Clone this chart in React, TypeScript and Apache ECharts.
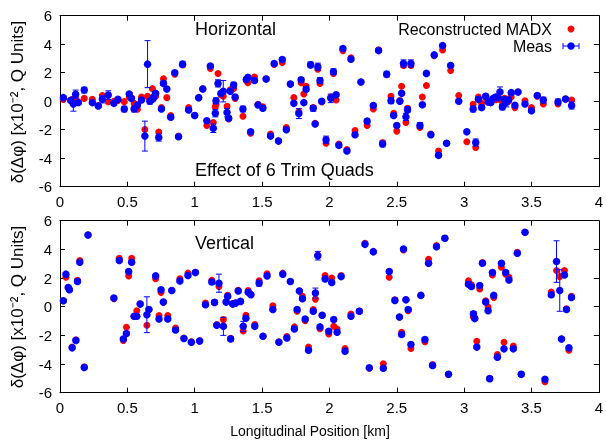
import React, { useEffect, useRef } from "react";
import * as echarts from "echarts";

// ---- Horizontal plane ----
const xH = [0.025,0.08,0.099,0.116,0.136,0.18,0.24,0.284,0.314,0.358,0.40,0.43,0.477,0.514,0.53,0.55,0.575,0.605,0.63,0.65,0.667,0.686,0.696,0.71,0.733,0.753,0.768,0.793,0.822,0.852,0.88,0.91,0.955,1.0,1.03,1.06,1.09,1.116,1.138,1.153,1.158,1.173,1.195,1.212,1.24,1.252,1.264,1.289,1.3,1.358,1.383,1.395,1.415,1.444,1.47,1.506,1.53,1.563,1.59,1.622,1.65,1.68,1.71,1.736,1.773,1.79,1.81,1.827,1.86,1.88,1.894,1.914,1.93,1.943,1.975,2.01,2.03,2.05,2.07,2.1,2.13,2.16,2.19,2.234,2.28,2.326,2.365,2.395,2.425,2.457,2.477,2.5,2.523,2.536,2.55,2.568,2.58,2.605,2.672,2.69,2.72,2.753,2.778,2.81,2.84,2.87,2.9,2.96,3.02,3.067,3.086,3.106,3.13,3.16,3.178,3.198,3.217,3.235,3.25,3.266,3.284,3.3,3.313,3.33,3.35,3.377,3.4,3.452,3.5,3.543,3.588,3.697,3.753,3.798];
const measH = [0.25,0.05,-0.2,0.48,-0.1,0.78,-0.1,-0.34,0.13,0.43,-0.15,0.13,-0.55,0.5,0.2,-0.55,-0.27,0.08,-2.45,2.6,0.0,0.13,0.3,0.55,-2.55,-0.55,1.25,0.85,-1.13,2.0,-2.5,2.6,-0.62,-1.0,0.25,0.85,-1.37,2.47,-1.9,-0.85,0.03,1.25,0.55,0.7,-0.8,-1.2,0.7,1.13,0.3,-0.55,1.53,1.67,-2.15,1.45,-0.27,-0.5,1.55,-2.45,2.65,-2.8,2.93,-2.0,1.2,-0.15,-0.87,1.5,-0.1,0.83,2.55,-0.5,-1.6,2.42,1.45,0.0,-2.7,0.2,2.07,0.45,-3.1,3.7,-3.5,2.95,-2.35,1.35,-1.4,-0.3,3.55,-3.0,1.9,0.03,-1.0,-1.7,0.0,0.55,2.65,-1.1,-0.6,2.65,-1.7,-0.25,1.95,-2.35,3.25,-3.8,3.9,-2.95,2.5,0.0,-2.15,-0.55,-2.9,0.13,-0.45,0.35,-0.05,-0.1,0.2,0.3,0.25,0.65,-0.4,0.1,-0.1,0.1,0.6,-0.28,0.65,-0.2,-0.67,0.4,0.08,-0.05,0.15,-0.3];
const modelH = [0.13,0.08,0.15,0.2,-0.05,0.2,0.13,-0.3,0.4,-0.04,0.0,0.05,-0.03,0.3,0.2,-0.15,-0.57,0.3,-1.98,0.35,0.1,0.88,0.2,0.35,-2.17,-0.45,1.58,0.25,-1.0,1.9,-2.45,2.55,-0.45,-1.0,0.25,0.88,-1.7,2.3,-1.5,-0.4,-0.2,1.95,0.45,0.35,-0.35,-1.25,0.8,0.9,0.2,-1.05,1.45,1.3,-2.25,1.7,-0.22,-0.4,1.58,-2.3,2.58,-2.78,2.72,-1.85,1.2,0.25,-0.75,1.3,0.5,1.05,2.55,-0.45,-1.55,2.25,1.25,-0.05,-2.95,0.3,1.95,0.08,-3.0,3.55,-3.4,3.05,-2.05,1.35,-1.7,-0.55,3.6,-2.9,1.85,0.35,-0.85,-2.1,0.05,1.05,2.5,-1.5,-0.5,2.5,-1.85,0.3,1.1,-2.3,3.2,-3.5,3.6,-2.95,2.15,0.4,-2.85,-0.22,-3.25,0.3,-0.15,0.25,0.05,0.0,0.1,0.1,0.3,0.13,-0.3,0.2,-0.05,0.0,0.3,-0.45,0.65,0.03,-0.45,0.35,-0.2,-0.2,0.15,0.08];
const errH = [0.1,0.1,0.5,0.3,0.1,0.2,0.1,0.1,0.25,0.3,0.1,0.1,0.2,0.1,0.1,0.2,0.1,0.1,1.05,1.65,0.2,0.1,0.1,0.1,0.25,0.1,0.15,0.1,0.1,0.1,0.1,0.2,0.1,0.05,0.05,0.05,0.1,0.1,0.3,0.25,0.2,0.25,0.1,0.75,0.3,0.15,0.1,0.2,0.1,0.2,0.1,0.1,0.1,0.1,0.1,0.1,0.1,0.1,0.1,0.1,0.1,0.1,0.1,0.1,0.35,0.15,0.1,0.15,0.2,0.2,0.1,0.25,0.2,0.1,0.25,0.3,0.2,0.1,0.15,0.1,0.1,0.1,0.1,0.1,0.15,0.1,0.1,0.2,0.2,0.2,0.1,0.1,0.1,0.1,0.25,0.25,0.2,0.25,0.2,0.1,0.1,0.1,0.1,0.1,0.1,0.1,0.1,0.1,0.1,0.2,0.25,0.1,0.15,0.15,0.1,0.1,0.1,0.1,0.1,0.35,0.2,0.1,0.3,0.1,0.1,0.1,0.1,0.1,0.1,0.1,0.2,0.2,0.1,0.25];

// ---- Vertical plane ----
const xV = [0.025,0.044,0.061,0.07,0.09,0.118,0.13,0.147,0.18,0.208,0.4,0.44,0.47,0.493,0.51,0.532,0.55,0.57,0.595,0.645,0.66,0.71,0.735,0.75,0.767,0.8,0.83,0.858,0.89,0.92,0.95,0.975,1.005,1.037,1.08,1.127,1.147,1.164,1.18,1.213,1.233,1.245,1.267,1.282,1.304,1.323,1.34,1.36,1.38,1.397,1.417,1.446,1.478,1.507,1.537,1.58,1.625,1.654,1.684,1.71,1.74,1.76,1.777,1.8,1.82,1.845,1.88,1.896,1.914,1.93,1.946,1.968,1.995,2.017,2.032,2.057,2.087,2.116,2.16,2.222,2.264,2.296,2.326,2.4,2.444,2.486,2.52,2.536,2.55,2.568,2.585,2.605,2.679,2.709,2.736,2.766,2.795,2.857,2.884,3.032,3.054,3.069,3.079,3.094,3.116,3.136,3.16,3.178,3.19,3.21,3.22,3.247,3.277,3.296,3.309,3.333,3.365,3.395,3.424,3.452,3.6,3.647,3.686,3.71,3.723,3.745,3.76,3.778,3.797];
const measV = [0.42,2.27,1.34,1.18,-2.87,-2.36,1.76,3.1,-4.24,5.0,0.6,3.22,-2.25,-1.87,2.45,3.1,-0.67,-0.67,0.18,-0.56,-0.2,2.15,-0.85,1.18,0.32,-0.85,1.13,-1.62,1.8,-2.22,2.18,-2.48,2.38,-2.4,0.14,1.72,0.3,-1.3,1.64,-1.37,0.32,0.72,-2.25,0.18,0.25,1.1,0.37,-1.37,-0.8,1.0,0.83,-1.37,1.64,-2.06,2.15,-0.2,-2.48,2.27,-2.18,1.76,-1.55,-0.2,1.1,0.55,-0.86,-3.03,-0.32,0.95,3.56,-1.41,-0.6,1.94,-1.71,1.69,-0.9,-1.78,2.1,-3.1,-0.67,-0.32,4.35,-4.26,3.84,-4.3,2.45,0.44,-0.72,-1.94,4.03,0.49,-0.2,-2.64,0.79,-2.29,3.03,-4.1,4.19,4.77,-4.72,1.57,1.41,-0.49,-0.83,-2.82,1.48,3.03,0.32,-0.28,-5.02,2.38,0.79,-3.52,3.03,-2.94,2.38,1.87,-2.94,3.73,-4.72,5.19,-5.07,0.83,3.15,1.13,-2.25,2.22,-0.2,-2.87,0.65];
const modelV = [0.42,2.05,1.3,1.2,-2.82,-2.3,1.85,3.22,-4.2,5.0,0.55,3.38,-2.36,-1.43,2.15,3.38,-0.67,-0.28,0.2,-1.3,-0.2,1.95,-0.62,1.0,0.32,-0.62,1.13,-1.48,1.95,-2.18,2.34,-2.45,2.4,-2.38,0.25,1.85,0.3,-1.25,1.41,-0.9,0.35,0.8,-2.2,0.22,0.25,1.15,0.37,-1.7,-0.6,1.13,0.85,-1.25,1.8,-2.06,2.3,0.07,-2.45,2.34,-2.08,1.76,-1.41,-0.32,1.1,0.72,-0.97,-2.82,-0.2,0.53,3.6,-1.53,-0.6,2.18,-1.9,2.0,-1.37,-1.55,2.18,-2.92,-0.51,-0.3,4.42,-4.3,3.84,-3.98,2.06,0.49,-0.72,-1.78,3.96,0.49,-0.28,-2.92,0.79,-2.45,3.31,-4.03,4.26,4.77,-4.72,1.8,1.53,-0.72,-0.78,-2.41,1.23,3.08,0.42,-0.02,-5.0,2.22,0.65,-3.33,2.75,-2.48,2.27,2.06,-2.75,3.8,-4.72,5.19,-5.23,1.02,2.52,2.1,-2.25,2.52,-0.14,-3.03,0.72];
const errV = [0.1,0.1,0.1,0.1,0.1,0.1,0.1,0.1,0.05,0.05,0.1,0.1,0.1,0.1,0.1,0.1,0.1,0.1,0.1,1.25,0.1,0.1,0.1,0.1,0.1,0.1,0.05,0.1,0.1,0.05,0.1,0.05,0.05,0.1,0.1,0.15,0.15,0.1,0.63,0.63,0.1,0.1,0.15,0.1,0.05,0.1,0.05,0.35,0.1,0.1,0.05,0.1,0.2,0.05,0.1,0.1,0.05,0.1,0.1,0.05,0.1,0.1,0.1,0.1,0.1,0.1,0.1,0.35,0.3,0.1,0.1,0.1,0.1,0.1,0.1,0.1,0.1,0.1,0.1,0.15,0.1,0.1,0.05,0.1,0.1,0.15,0.05,0.1,0.1,0.05,0.1,0.1,0.05,0.15,0.1,0.15,0.1,0.15,0.05,0.1,0.1,0.15,0.1,0.1,0.1,0.1,0.1,0.1,0.15,0.1,0.1,0.1,0.1,0.1,0.1,0.1,0.1,0.05,0.15,0.05,0.1,0.15,1.45,1.45,0.05,0.1,0.1,0.1,0.1];

const xTicks = { min: 0, max: 4, interval: 0.5 };
const yTicks = { min: -6, max: 6, interval: 2 };

const FONT = "'Liberation Sans', Arial, Helvetica, sans-serif";
const BLUE = "#0000ff";
const RED = "#ff0000";

export default function App() {
  const ref = useRef<HTMLDivElement>(null);
  useEffect(() => {
    if (!ref.current) return;
    const chart = echarts.init(ref.current, null, { renderer: "svg" });

    const grids = [
      { left: 60, top: 15.7, width: 539, height: 171 },
      { left: 60, top: 220.7, width: 539, height: 172 },
    ];

    const xAxes: any[] = [];
    const yAxes: any[] = [];
    for (let g = 0; g < 2; g++) {
      for (const pos of ["bottom", "top"]) {
        xAxes.push({
          type: "value", gridIndex: g, position: pos, ...xTicks,
          axisLine: { show: true, onZero: false, lineStyle: { color: "#000", width: 1 } },
          axisTick: { show: true, inside: true, length: 5, lineStyle: { color: "#000" } },
          axisLabel: { show: pos === "bottom", color: "#000", fontSize: 15, fontFamily: FONT, margin: 7 },
          splitLine: { show: false },
        });
      }
      for (const pos of ["left", "right"]) {
        yAxes.push({
          type: "value", gridIndex: g, position: pos, ...yTicks,
          axisLine: { show: true, onZero: false, lineStyle: { color: "#000", width: 1 } },
          axisTick: { show: true, inside: true, length: 5, lineStyle: { color: "#000" } },
          axisLabel: { show: pos === "left", color: "#000", fontSize: 15, fontFamily: FONT, margin: 8 },
          splitLine: { show: false },
        });
      }
    }

    const errRender = (params: any, api: any) => {
      const x = api.value(0), lo = api.value(1), hi = api.value(2);
      const p1 = api.coord([x, hi]);
      const p2 = api.coord([x, lo]);
      const w = 3;
      const st = { stroke: BLUE, lineWidth: 1 };
      return {
        type: "group",
        children: [
          { type: "line", shape: { x1: p1[0], y1: p1[1], x2: p2[0], y2: p2[1] }, style: st },
          { type: "line", shape: { x1: p1[0] - w, y1: p1[1], x2: p1[0] + w, y2: p1[1] }, style: st },
          { type: "line", shape: { x1: p2[0] - w, y1: p2[1], x2: p2[0] + w, y2: p2[1] }, style: st },
        ],
      };
    };

    const sets = [
      { x: xH, meas: measH, model: modelH, err: errH },
      { x: xV, meas: measV, model: modelV, err: errV },
    ];
    const series: any[] = [];
    sets.forEach((s, g) => {
      const xi = g * 2, yi = g * 2;
      series.push({
        type: "scatter", xAxisIndex: xi, yAxisIndex: yi, symbol: "circle", symbolSize: 7,
        itemStyle: { color: RED, opacity: 1 }, data: s.x.map((v, i) => [v, s.model[i]]), z: 2,
      });
      series.push({
        type: "custom", xAxisIndex: xi, yAxisIndex: yi, renderItem: errRender,
        encode: { x: 0, y: [1, 2] },
        data: s.x.map((v, i) => [v, s.meas[i] - s.err[i], s.meas[i] + s.err[i]]), z: 3,
      });
      series.push({
        type: "scatter", xAxisIndex: xi, yAxisIndex: yi, symbol: "circle", symbolSize: 7.5,
        itemStyle: { color: BLUE, opacity: 1 }, data: s.x.map((v, i) => [v, s.meas[i]]), z: 4,
      });
    });

    const txt = (text: string, x: number, y: number, size: number, align = "left", extra: any = {}) => ({
      type: "text", x, y, ...extra,
      style: { text, fill: "#000", font: `${size}px ${FONT}`, textAlign: align, textVerticalAlign: "middle" },
    });

    const ylabel = "δ(Δφ) [x10⁻², Q Units]";
    chart.setOption({
      animation: false,
      grid: grids,
      xAxis: xAxes,
      yAxis: yAxes,
      series,
      graphic: [
        txt("Horizontal", 195, 29, 18),
        txt("Effect of 6 Trim Quads", 195, 170, 18),
        txt("Vertical", 195, 243, 18),
        txt("Reconstructed MADX", 552, 29, 16, "right"),
        txt("Meas", 552, 46, 16, "right"),
        { type: "circle", shape: { cx: 571, cy: 29, r: 3.5 }, style: { fill: RED } },
        { type: "line", shape: { x1: 563, y1: 46, x2: 579, y2: 46 }, style: { stroke: BLUE, lineWidth: 1 } },
        { type: "line", shape: { x1: 563, y1: 43, x2: 563, y2: 49 }, style: { stroke: BLUE, lineWidth: 1 } },
        { type: "line", shape: { x1: 579, y1: 43, x2: 579, y2: 49 }, style: { stroke: BLUE, lineWidth: 1 } },
        { type: "circle", shape: { cx: 571, cy: 46, r: 3.75 }, style: { fill: BLUE } },
        txt(ylabel, 17, 102, 17, "center", { rotation: Math.PI / 2 }),
        txt(ylabel, 17, 307, 17, "center", { rotation: Math.PI / 2 }),
        txt("Longitudinal Position [km]", 310, 431, 14, "center"),
      ],
    });
    return () => chart.dispose();
  }, []);
  return <div ref={ref} style={{ position: "fixed", left: 0, top: 0, width: 606, height: 441 }} />;
}
